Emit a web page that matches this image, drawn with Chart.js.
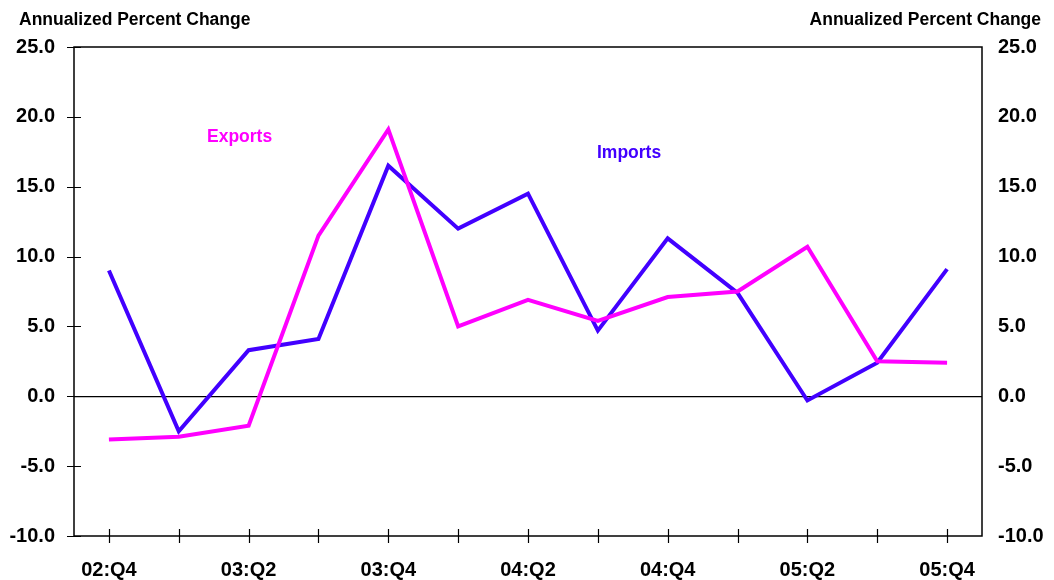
<!DOCTYPE html>
<html>
<head>
<meta charset="utf-8">
<script src="https://cdn.jsdelivr.net/npm/chart.js@4"></script>
<style>
  html, body { margin: 0; padding: 0; background: #fff; }
  #wrap { position: relative; width: 1054px; height: 580px; }
</style>
</head>
<body>
<div id="wrap"><canvas id="tradeChart" width="1054" height="580"></canvas></div>
<script>
// 수출입 증가율 (연율, 분기별)
const QUARTERS = ["02:Q4", "03:Q1", "03:Q2", "03:Q3", "03:Q4", "04:Q1", "04:Q2", "04:Q3", "04:Q4", "05:Q1", "05:Q2", "05:Q3", "05:Q4"];
const EXPORTS = [-3.1, -2.9, -2.1, 11.5, 19.1, 5.0, 6.9, 5.4, 7.1, 7.5, 10.7, 2.5, 2.4];
const IMPORTS = [9.0, -2.5, 3.3, 4.1, 16.5, 12.0, 14.5, 4.7, 11.3, 7.4, -0.3, 2.4, 9.1];
const Y_MIN = -10, Y_MAX = 25, Y_STEP = 5;
const AXIS_TITLE = "Annualized Percent Change";

const COLOR_EXPORTS = "#ff00ff";
const COLOR_IMPORTS = "#4200ff";
const FONT = "'Liberation Sans', Arial, sans-serif";

// 테두리 상자, 축을 가로지르는 눈금, 제목과 계열 이름
const framePlugin = {
  id: "frame",
  afterDraw(chart) {
    const { ctx, chartArea: a, scales } = chart;
    ctx.save();
    ctx.strokeStyle = "#000";
    ctx.lineWidth = 1.5;
    ctx.strokeRect(a.left, a.top, a.right - a.left, a.bottom - a.top);

    ctx.lineWidth = 1.2;
    ctx.beginPath();
    scales.y.ticks.forEach((t, i) => {
      const py = Math.round(scales.y.getPixelForTick(i)) + 0.5;
      ctx.moveTo(a.left - 7, py);
      ctx.lineTo(a.left + 7, py);
    });
    scales.x.ticks.forEach((t, i) => {
      const px = Math.round(scales.x.getPixelForTick(i)) + 0.5;
      ctx.moveTo(px, a.bottom - 7);
      ctx.lineTo(px, a.bottom + 7);
    });
    ctx.stroke();

    ctx.fillStyle = "#000";
    ctx.font = `bold 17.5px ${FONT}`;
    ctx.textBaseline = "middle";
    ctx.textAlign = "left";
    ctx.fillText(AXIS_TITLE, 19, 20);
    ctx.textAlign = "right";
    ctx.fillText(AXIS_TITLE, 1041, 20);

    ctx.textAlign = "left";
    ctx.fillStyle = COLOR_EXPORTS;
    ctx.fillText("Exports", 207, 137);
    ctx.fillStyle = COLOR_IMPORTS;
    ctx.fillText("Imports", 597, 153);
    ctx.restore();
  },
};

const tickFont = { family: FONT, size: 20, weight: "bold" };

new Chart(document.getElementById("tradeChart"), {
  type: "line",
  data: {
    labels: QUARTERS,
    datasets: [
      { label: "Exports", data: EXPORTS, borderColor: COLOR_EXPORTS, borderWidth: 4, pointRadius: 0, tension: 0 },
      { label: "Imports", data: IMPORTS, borderColor: COLOR_IMPORTS, borderWidth: 4, pointRadius: 0, tension: 0 },
    ],
  },
  options: {
    responsive: false,
    animation: false,
    layout: { padding: { top: 47, left: 0, right: 0, bottom: 0 } },
    plugins: { legend: { display: false }, tooltip: { enabled: false } },
    scales: {
      x: {
        type: "category",
        offset: true,
        grid: { display: false },
        border: { display: false },
        ticks: {
          color: "#000",
          font: tickFont,
          padding: 14,
          maxRotation: 0,
          autoSkip: false,
          callback: (v, i) => (i % 2 === 0 ? QUARTERS[i] : ""),
        },
        afterFit: (s) => { s.height = 44; },
      },
      y: {
        position: "left",
        min: Y_MIN,
        max: Y_MAX,
        grid: {
          drawTicks: false,
          color: (c) => (c.tick && c.tick.value === 0 ? "#000" : "rgba(0,0,0,0)"),
          lineWidth: 1.2,
        },
        border: { display: false },
        ticks: { stepSize: Y_STEP, color: "#000", font: tickFont, padding: 19, callback: (v) => v.toFixed(1) },
        afterFit: (s) => { s.width = 74; },
      },
      y2: {
        position: "right",
        min: Y_MIN,
        max: Y_MAX,
        grid: { display: false, drawTicks: false },
        border: { display: false },
        ticks: { stepSize: Y_STEP, color: "#000", font: tickFont, padding: 16, callback: (v) => v.toFixed(1) },
        afterFit: (s) => { s.width = 72; },
      },
    },
  },
  plugins: [framePlugin],
});
</script>
</body>
</html>
